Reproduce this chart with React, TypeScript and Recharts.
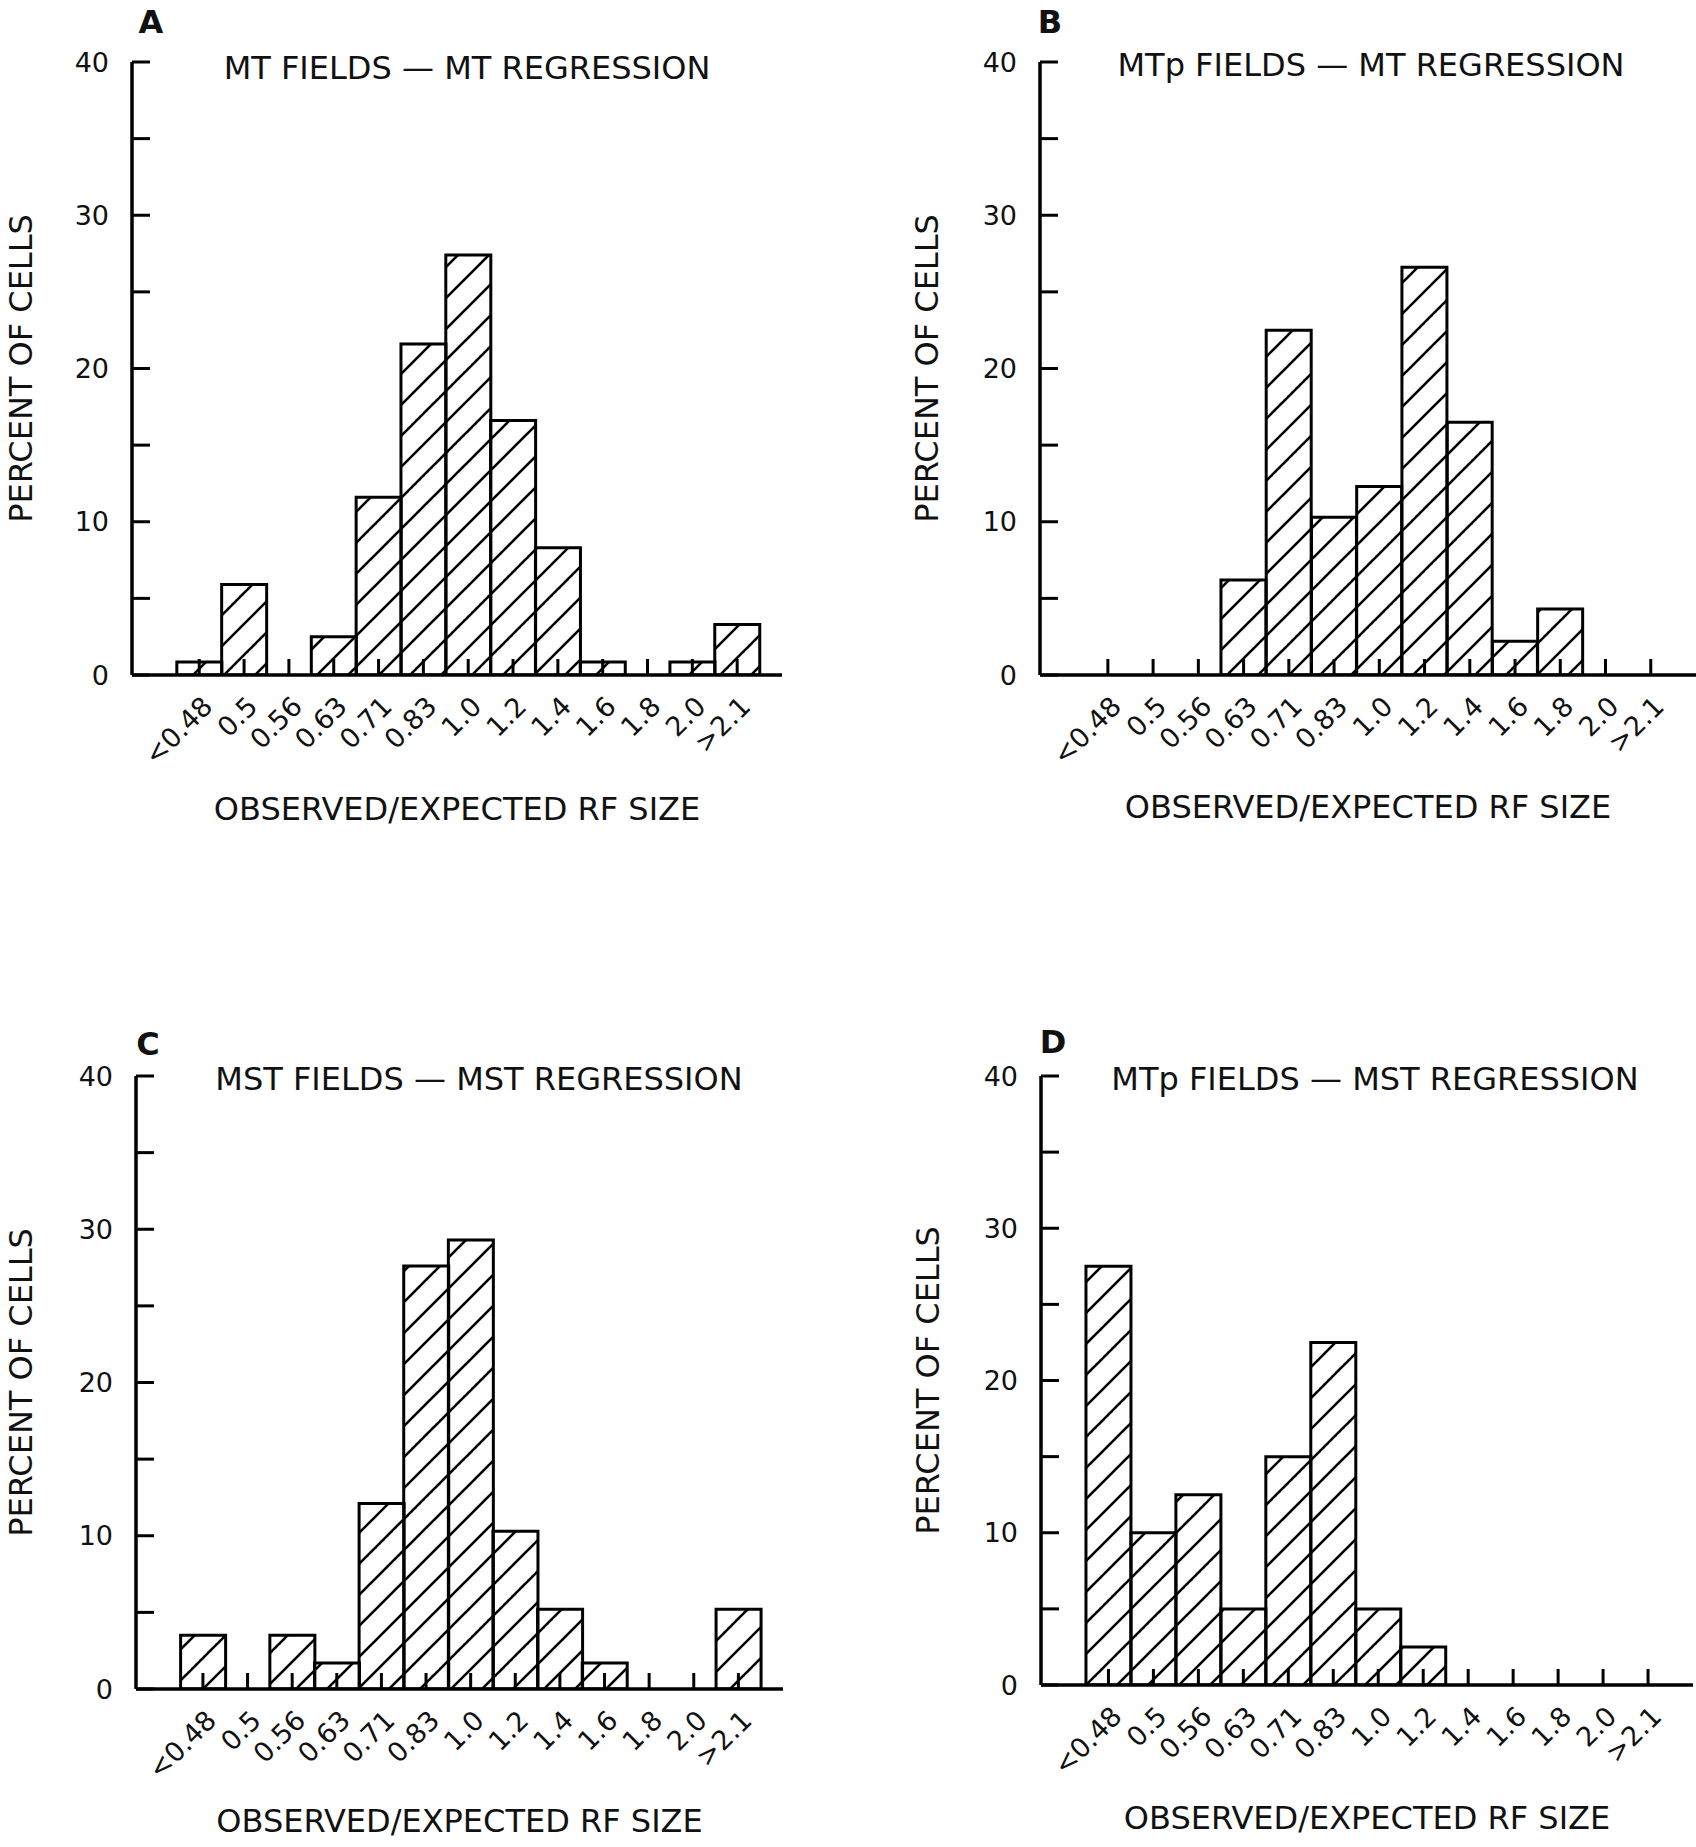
import { BarChart, Bar, XAxis, YAxis } from 'recharts';

// bins of observed/expected RF size (same for all four panels)
const binLabels = ['<0.48', '0.5', '0.56', '0.63', '0.71', '0.83', '1.0', '1.2', '1.4', '1.6', '1.8', '2.0', '>2.1'];
const percentTicks = [0, 5, 10, 15, 20, 25, 30, 35, 40];

// percent of cells per bin
const mtFieldsMtRegression = [0.85, 5.9, 0, 2.5, 11.6, 21.6, 27.4, 16.6, 8.3, 0.85, 0, 0.85, 3.3];
const mtpFieldsMtRegression = [0, 0, 0, 6.2, 22.5, 10.3, 12.3, 26.6, 16.5, 2.2, 4.3, 0, 0];
const mstFieldsMstRegression = [3.5, 0, 3.5, 1.7, 12.1, 27.6, 29.3, 10.3, 5.2, 1.7, 0, 0, 5.2];
const mtpFieldsMstRegression = [27.5, 10.0, 12.5, 5.0, 15.0, 22.5, 5.0, 2.5, 0, 0, 0, 0, 0];

const FONT = '"DejaVu Sans", "Liberation Sans", Arial, sans-serif';
const INK = '#111';

interface PanelSpec {
  letter: string;
  title: string;
  values: number[];
  left: number;
  top: number;
  width: number;
  height: number;
  axisX: number; // y-axis position inside the panel
  plotTop: number;
  plotBottom: number;
  plotRight: number;
  yTitleX: number;
  xTitleOffset: number;
  letterX: number;
  letterY: number;
  titleX: number;
  titleY: number;
}

const panels: PanelSpec[] = [
  {
    letter: 'A', title: 'MT FIELDS — MT REGRESSION', values: mtFieldsMtRegression,
    left: 0, top: 0, width: 848, height: 900,
    axisX: 132, plotTop: 62, plotBottom: 675, plotRight: 782,
    yTitleX: 21, xTitleOffset: 80,
    letterX: 151, letterY: 33, titleX: 467, titleY: 79,
  },
  {
    letter: 'B', title: 'MTp FIELDS — MT REGRESSION', values: mtpFieldsMtRegression,
    left: 848, top: 0, width: 848, height: 900,
    axisX: 192, plotTop: 62, plotBottom: 675, plotRight: 848,
    yTitleX: 79, xTitleOffset: 82,
    letterX: 1050, letterY: 33, titleX: 1371, titleY: 76,
  },
  {
    letter: 'C', title: 'MST FIELDS — MST REGRESSION', values: mstFieldsMstRegression,
    left: 0, top: 900, width: 848, height: 947,
    axisX: 136, plotTop: 176, plotBottom: 789, plotRight: 783,
    yTitleX: 21, xTitleOffset: 15,
    letterX: 148, letterY: 1055, titleX: 479, titleY: 1090,
  },
  {
    letter: 'D', title: 'MTp FIELDS — MST REGRESSION', values: mtpFieldsMstRegression,
    left: 848, top: 900, width: 848, height: 947,
    axisX: 193, plotTop: 176, plotBottom: 785, plotRight: 845,
    yTitleX: 80, xTitleOffset: 18,
    letterX: 1053, letterY: 1053, titleX: 1375, titleY: 1090,
  },
];

function BinTick({ x, y, payload }: any) {
  const tx = x + 15;
  const ty = y + 33;
  return (
    <text
      x={tx}
      y={ty}
      transform={`rotate(-45 ${tx} ${ty})`}
      textAnchor="end"
      fontSize={27}
      fontFamily={FONT}
      fill={INK}
    >
      {payload.value}
    </text>
  );
}

function Panel({ spec }: { spec: PanelSpec }) {
  const data = binLabels.map((bin, i) => ({ bin, pct: spec.values[i] }));
  const plotWidth = spec.plotRight - spec.axisX;
  const band = plotWidth / 14.5;

  return (
    <div style={{ position: 'absolute', left: spec.left, top: spec.top }}>
      <BarChart
        width={spec.width}
        height={spec.height}
        data={data}
        margin={{ top: spec.plotTop, right: spec.width - spec.plotRight, bottom: 0, left: 0 }}
        barCategoryGap={0}
        barGap={0}
      >
        <XAxis
          dataKey="bin"
          interval={0}
          height={spec.height - spec.plotBottom}
          padding={{ left: band, right: band / 2 }}
          axisLine={{ stroke: '#000', strokeWidth: 3.5 }}
          tickLine={{ stroke: '#000', strokeWidth: 3 }}
          tickSize={-16}
          tickMargin={16}
          tick={<BinTick />}
          label={{
            value: 'OBSERVED/EXPECTED RF SIZE',
            position: 'insideBottom',
            offset: spec.xTitleOffset,
            fontSize: 32,
            fontFamily: FONT,
            fill: INK,
          }}
        />
        <YAxis
          width={spec.axisX}
          domain={[0, 40]}
          ticks={percentTicks}
          interval={0}
          allowDataOverflow
          tickFormatter={(v: number) => (v % 10 === 0 ? String(v) : '')}
          axisLine={{ stroke: '#000', strokeWidth: 3.5 }}
          tickLine={{ stroke: '#000', strokeWidth: 3 }}
          tickSize={-18}
          tickMargin={41}
          tick={{ fontSize: 27, fontFamily: FONT, fill: INK }}
          label={{
            value: 'PERCENT OF CELLS',
            angle: -90,
            position: 'insideLeft',
            offset: spec.yTitleX,
            fontSize: 32,
            fontFamily: FONT,
            fill: INK,
            style: { textAnchor: 'middle' },
          }}
        />
        <Bar
          dataKey="pct"
          fill="url(#hatch)"
          stroke="#000"
          strokeWidth={3}
          isAnimationActive={false}
        />
      </BarChart>
    </div>
  );
}

export default function App() {
  return (
    <div style={{ position: 'absolute', left: 0, top: 0, width: 1696, height: 1847, background: '#fff' }}>
      <svg width={0} height={0} style={{ position: 'absolute' }}>
        <defs>
          <pattern id="hatch" patternUnits="userSpaceOnUse" width={31} height={31}>
            <path d="M0,31 L31,0 M-6,6 L6,-6 M25,37 L37,25" stroke="#000" strokeWidth={2.6} />
          </pattern>
        </defs>
      </svg>
      {panels.map((p) => (
        <Panel key={p.letter} spec={p} />
      ))}
      <svg
        width={1696}
        height={1847}
        style={{ position: 'absolute', left: 0, top: 0, pointerEvents: 'none' }}
      >
        {panels.map((p) => (
          <g key={p.letter}>
            <text x={p.letterX} y={p.letterY} textAnchor="middle" fontSize={32} fontWeight="bold" fontFamily={FONT} fill={INK}>
              {p.letter}
            </text>
            <text x={p.titleX} y={p.titleY} textAnchor="middle" fontSize={32} fontFamily={FONT} fill={INK}>
              {p.title}
            </text>
          </g>
        ))}
      </svg>
    </div>
  );
}
